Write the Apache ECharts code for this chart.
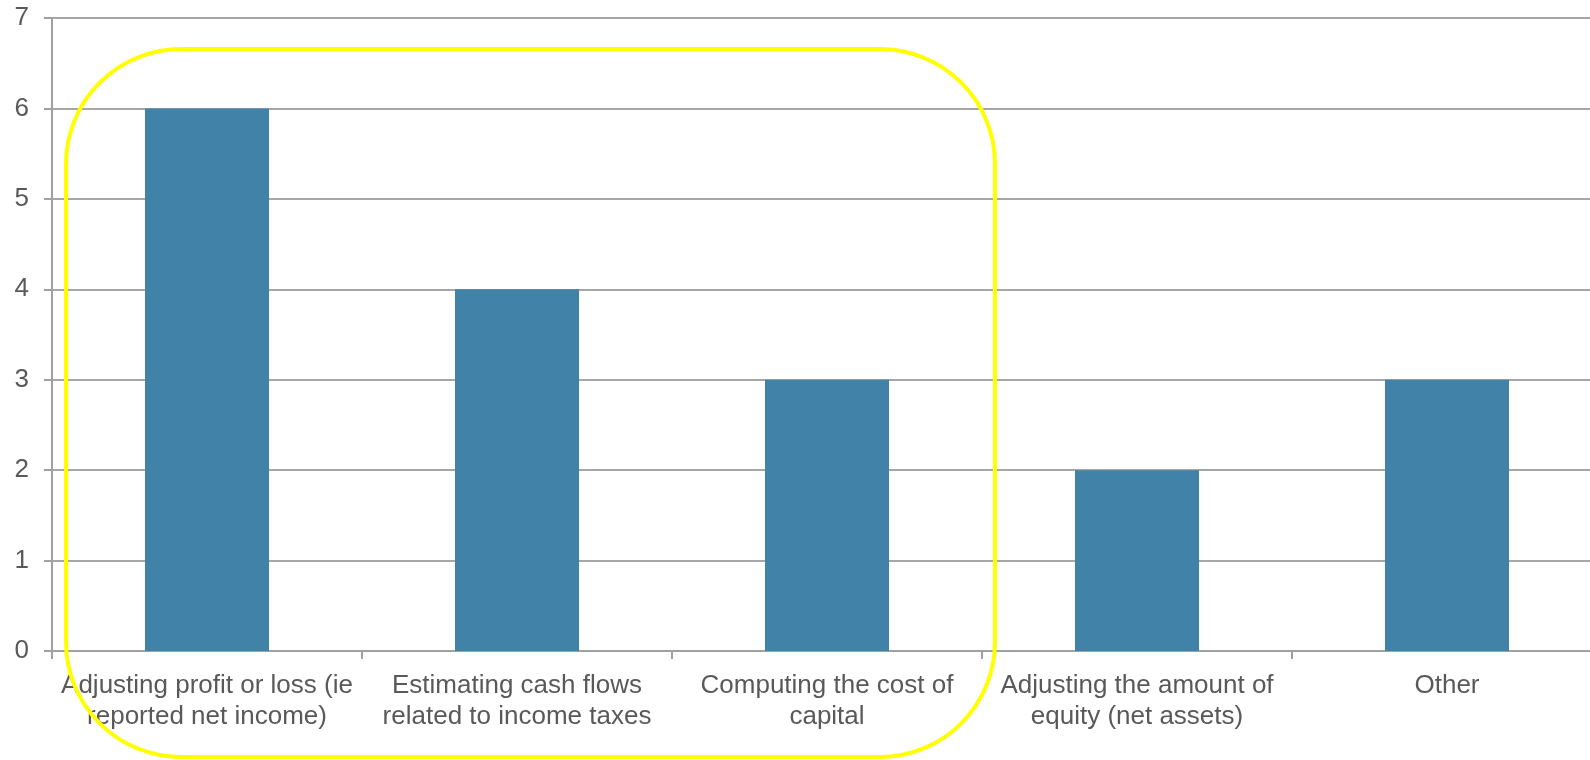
<!DOCTYPE html>
<html>
<head>
<meta charset="utf-8">
<script src="https://cdn.jsdelivr.net/npm/echarts@6/dist/echarts.min.js"></script>
<style>
html,body{margin:0;padding:0;background:#fff;overflow:hidden;}
#c{width:1602px;height:760px;}
</style>
</head>
<body>
<div id="c"></div>
<script>
const categories = [
  "Adjusting profit or loss (ie\nreported net income)",
  "Estimating cash flows\nrelated to income taxes",
  "Computing the cost of\ncapital",
  "Adjusting the amount of\nequity (net assets)",
  "Other"
];
const values = [6, 4, 3, 2, 3];
const yTicks = { min: 0, max: 7, interval: 1 };

const chart = echarts.init(document.getElementById('c'), null, { renderer: 'canvas' });
const font = 'Liberation Sans, Arial, sans-serif';
chart.setOption({
  animation: false,
  backgroundColor: '#ffffff',
  grid: { left: 52, right: 0, top: 18, bottom: 109, containLabel: false },
  xAxis: {
    type: 'category',
    data: categories,
    axisLine: { lineStyle: { color: '#a0a0a0', width: 2 } },
    axisTick: { show: true, length: 8, lineStyle: { color: '#a0a0a0', width: 2 } },
    axisLabel: { interval: 0, color: '#595959', fontSize: 26, fontFamily: font, lineHeight: 31, margin: 19 },
    splitLine: { show: false }
  },
  yAxis: {
    type: 'value',
    min: yTicks.min, max: yTicks.max, interval: yTicks.interval,
    axisLine: { show: true, lineStyle: { color: '#a0a0a0', width: 2 } },
    axisTick: { show: true, length: 8, lineStyle: { color: '#a0a0a0', width: 2 } },
    axisLabel: { color: '#595959', fontSize: 26, fontFamily: font, margin: 23 },
    splitLine: { show: true, lineStyle: { color: '#a6a6a6', width: 2 } }
  },
  series: [{
    type: 'bar',
    data: values,
    barWidth: '40%',
    itemStyle: { color: '#4183a8' }
  }],
  graphic: [{
    type: 'rect',
    z: 100,
    shape: { x: 66, y: 49, width: 929, height: 708, r: 115 },
    style: { fill: 'none', stroke: '#ffff00', lineWidth: 4 }
  }]
});
</script>
</body>
</html>
